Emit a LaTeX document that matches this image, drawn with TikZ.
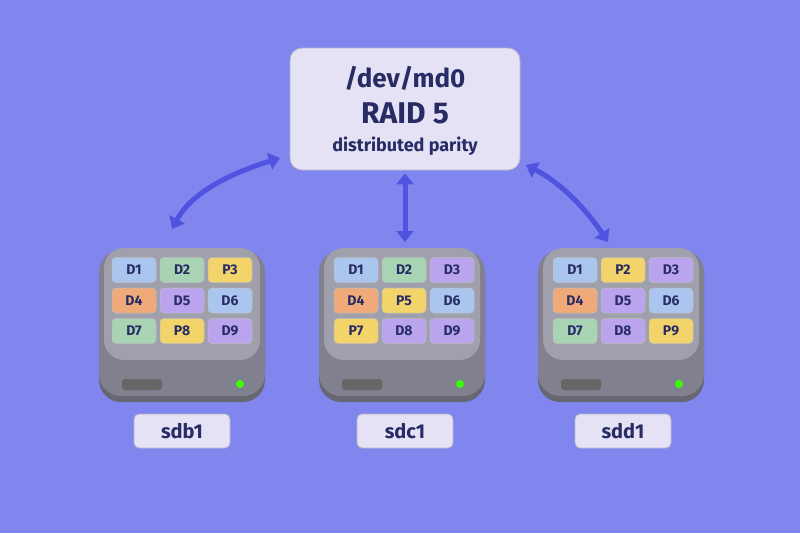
\documentclass[tikz,border=0pt]{standalone}
\usepackage{fontspec}
\setmainfont{Fira Sans}
\usetikzlibrary{arrows.meta}
\definecolor{bg}{RGB}{128,134,238}
\definecolor{card}{RGB}{228,226,244}
\definecolor{ink}{RGB}{40,44,100}
\definecolor{arr}{RGB}{78,84,224}
\definecolor{body}{RGB}{128,128,142}
\definecolor{face}{RGB}{160,160,172}
\definecolor{tB}{RGB}{170,198,238}
\definecolor{tG}{RGB}{168,212,180}
\definecolor{tY}{RGB}{242,212,106}
\definecolor{tO}{RGB}{240,170,122}
\definecolor{tP}{RGB}{186,164,238}
\tikzset{
 card/.style={fill=card,draw=card!80!black,rounded corners=12pt,line width=0.8pt},
 tile/.style={rounded corners=4pt,minimum width=44pt,minimum height=25pt,inner sep=0pt,font=\bfseries\fontsize{14}{14}\selectfont,text=ink,draw=black!25,line width=0.5pt},
 lab/.style={card,rounded corners=5pt,minimum width=96pt,minimum height=34pt,font=\bfseries\fontsize{20}{20}\selectfont,text=ink},
 dbl/.style={arr,line width=5pt,{Triangle[length=11pt,width=17pt]}-{Triangle[length=11pt,width=17pt]}}
}
\newcommand{\drive}[2]{% #1 name, #2 x-centre
 \fill[body!80!black,rounded corners=22pt] (#2-83,255) rectangle (#2+83,402);
 \fill[body,rounded corners=22pt] (#2-83,250) rectangle (#2+83,396);
 \fill[face,rounded corners=20pt] (#2-78,248) rectangle (#2+78,360);
 \fill[black!60,rounded corners=3pt] (#2-60,379) rectangle (#2-20,390);
 \fill[green!70!lime] (#2+58,384) circle (4pt);
 \coordinate (#1) at (#2,248);
}
\newcommand{\tiles}[3]{% #1 prefix #2 x, #3 list
 \foreach \c/\r/\t/\k in {#3}{
  \node[tile,fill=\k] (#1\c\r) at (#2+\c*48-48,270+\r*30.5-30.5) {\t};}
}
\begin{document}
\begin{tikzpicture}[x=1pt,y=-1pt]
\fill[bg] (0,0) rectangle (800,533);
\useasboundingbox (0,0) rectangle (800,533);
\node[card,minimum width=230pt,minimum height=122pt] (md) at (405,109) {};
\node[font=\bfseries\fontsize{26}{26}\selectfont,text=ink] (t1) at (405,78) {/dev/md0};
\node[font=\bfseries\fontsize{30}{30}\selectfont,text=ink] (t2) at (405,113) {RAID 5};
\node[font=\bfseries\fontsize{18}{18}\selectfont,text=ink] (t3) at (405,146) {distributed parity};
\drive{dl}{182}
\drive{dm}{402}
\drive{dr}{621}
\tiles{a}{134}{1/1/D1/tB,2/1/D2/tG,3/1/P3/tY,1/2/D4/tO,2/2/D5/tP,3/2/D6/tB,1/3/D7/tG,2/3/P8/tY,3/3/D9/tP}
\tiles{b}{356}{1/1/D1/tB,2/1/D2/tG,3/1/D3/tP,1/2/D4/tO,2/2/P5/tY,3/2/D6/tB,1/3/P7/tY,2/3/D8/tP,3/3/D9/tP}
\tiles{c}{575}{1/1/D1/tB,2/1/P2/tY,3/1/D3/tP,1/2/D4/tO,2/2/D5/tP,3/2/D6/tB,1/3/D7/tG,2/3/D8/tP,3/3/P9/tY}
\node[lab] (l1) at (182,431) {sdb1};
\node[lab] (l2) at (405,431) {sdc1};
\node[lab] (l3) at (623,431) {sdd1};
\coordinate (m1) at (280,158);
\coordinate (m3) at (526,165);
\coordinate (d1) at (172,229);
\coordinate (d3) at (608,242);
\draw[dbl] (m1) .. controls (225,175) and (190,195) .. (d1);
\draw[dbl] (md.south) ++(0,3) -- (405,242);
\draw[dbl] (m3) .. controls (565,185) and (590,215) .. (d3);
\end{tikzpicture}
\end{document}
